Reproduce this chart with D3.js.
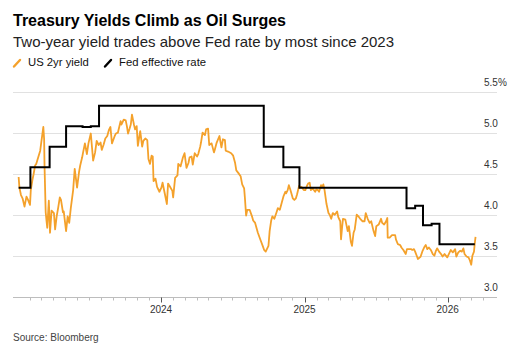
<!DOCTYPE html>
<html><head><meta charset="utf-8">
<script src="https://cdn.jsdelivr.net/npm/d3@7"></script>
<style>
body{margin:0;background:#fff}
svg{display:block}
text{font-family:"Liberation Sans",Arial,Helvetica,sans-serif}
</style>
</head><body>
<svg id="chart" width="525" height="353"></svg>
<script>
// ---------- DATA ----------
const titleText = "Treasury Yields Climb as Oil Surges";
const subtitleText = "Two-year yield trades above Fed rate by most since 2023";
const seriesNames = ["US 2yr yield", "Fed effective rate"];
const sourceText = "Source: Bloomberg";

const yieldDates = [
"2023-01-03","2023-01-05","2023-01-09","2023-01-13","2023-01-18","2023-01-23","2023-01-27","2023-02-01","2023-02-03","2023-02-07",
"2023-02-10","2023-02-14","2023-02-17","2023-02-22","2023-02-27","2023-03-02","2023-03-07","2023-03-09","2023-03-10","2023-03-13",
"2023-03-15","2023-03-17","2023-03-21","2023-03-24","2023-03-28","2023-04-03","2023-04-06","2023-04-10","2023-04-14","2023-04-18",
"2023-04-21","2023-04-26","2023-04-28","2023-05-04","2023-05-08","2023-05-12","2023-05-16","2023-05-22","2023-05-26","2023-06-01",
"2023-06-06","2023-06-09","2023-06-14","2023-06-16","2023-06-21","2023-06-26","2023-06-30","2023-07-06","2023-07-12","2023-07-17",
"2023-07-21","2023-07-26","2023-07-31","2023-08-03","2023-08-08","2023-08-12","2023-08-17","2023-08-21","2023-08-25","2023-08-29",
"2023-09-05","2023-09-08","2023-09-13","2023-09-20","2023-09-22","2023-09-28","2023-10-03","2023-10-06","2023-10-09","2023-10-13",
"2023-10-16","2023-10-19","2023-10-24","2023-10-27","2023-10-31","2023-11-03","2023-11-06","2023-11-09","2023-11-14","2023-11-17",
"2023-11-22","2023-11-27","2023-11-30","2023-12-04","2023-12-08","2023-12-11","2023-12-13","2023-12-18","2023-12-22","2023-12-28",
"2024-01-02","2024-01-05","2024-01-11","2024-01-16","2024-01-19","2024-01-24","2024-01-30","2024-02-01","2024-02-06","2024-02-12",
"2024-02-14","2024-02-20","2024-02-26","2024-03-01","2024-03-06","2024-03-11","2024-03-14","2024-03-19","2024-03-22","2024-03-27",
"2024-04-02","2024-04-05","2024-04-10","2024-04-12","2024-04-16","2024-04-22","2024-04-25","2024-04-30","2024-05-03","2024-05-09",
"2024-05-15","2024-05-17","2024-05-22","2024-05-29","2024-06-03","2024-06-07","2024-06-12","2024-06-14","2024-06-20","2024-06-28",
"2024-07-03","2024-07-08","2024-07-11","2024-07-16","2024-07-22","2024-07-26","2024-07-31","2024-08-02","2024-08-05","2024-08-08",
"2024-08-14","2024-08-20","2024-08-23","2024-08-28","2024-09-04","2024-09-10","2024-09-17","2024-09-20","2024-09-24","2024-09-27",
"2024-10-01","2024-10-04","2024-10-08","2024-10-11","2024-10-16","2024-10-21","2024-10-25","2024-10-30","2024-11-04","2024-11-08",
"2024-11-13","2024-11-15","2024-11-19","2024-11-22","2024-11-26","2024-12-02","2024-12-06","2024-12-10","2024-12-13","2024-12-18",
"2024-12-20","2024-12-24","2024-12-30",
"2025-01-03","2025-01-07","2025-01-10","2025-01-14","2025-01-17","2025-01-22","2025-01-28","2025-01-31","2025-02-04","2025-02-07",
"2025-02-12","2025-02-14","2025-02-18","2025-02-21","2025-02-26","2025-03-03","2025-03-06","2025-03-10","2025-03-14","2025-03-19",
"2025-03-25","2025-03-28","2025-04-02","2025-04-04","2025-04-07","2025-04-09","2025-04-15","2025-04-21","2025-04-24","2025-04-29",
"2025-05-02","2025-05-06","2025-05-09","2025-05-14","2025-05-20","2025-05-23","2025-05-29","2025-06-03","2025-06-06","2025-06-11",
"2025-06-16","2025-06-20","2025-06-26","2025-06-30","2025-07-03","2025-07-09","2025-07-15","2025-07-18","2025-07-23","2025-07-28",
"2025-07-31","2025-08-01","2025-08-06","2025-08-12","2025-08-15","2025-08-20","2025-08-22","2025-08-27","2025-09-02","2025-09-05",
"2025-09-10","2025-09-16","2025-09-19","2025-09-24","2025-09-30","2025-10-03","2025-10-07","2025-10-10","2025-10-14","2025-10-17",
"2025-10-22","2025-10-24","2025-10-29","2025-11-03","2025-11-06","2025-11-10","2025-11-14","2025-11-19","2025-11-24","2025-11-28",
"2025-12-02","2025-12-05","2025-12-10","2025-12-15","2025-12-19","2025-12-24","2025-12-31",
"2026-01-06","2026-01-09","2026-01-14","2026-01-20","2026-01-23","2026-01-28","2026-02-02","2026-02-06","2026-02-10","2026-02-13",
"2026-02-18","2026-02-23","2026-02-26","2026-03-02","2026-03-05","2026-03-09","2026-03-11","2026-03-13"
];
const yieldValues = [
4.46,4.33,4.24,4.20,4.10,4.22,4.18,4.12,4.30,4.42,
4.49,4.60,4.62,4.70,4.78,4.89,5.07,4.92,4.60,4.03,
3.93,3.84,4.17,3.78,4.05,4.02,3.82,3.98,4.09,4.21,
4.18,4.03,4.04,3.80,3.98,3.90,4.08,4.30,4.56,4.33,
4.52,4.60,4.70,4.75,4.87,4.74,4.87,4.99,4.66,4.76,
4.90,4.85,4.88,4.79,4.86,4.93,4.96,5.03,5.07,4.87,
4.96,4.99,5.00,5.14,5.10,5.16,5.15,5.08,4.99,5.05,
5.10,5.22,5.10,5.04,5.08,4.84,4.93,5.02,4.83,4.90,
4.93,4.91,4.68,4.62,4.72,4.71,4.41,4.44,4.34,4.28,
4.33,4.39,4.25,4.13,4.38,4.34,4.29,4.21,4.45,4.48,
4.62,4.59,4.70,4.75,4.57,4.63,4.70,4.71,4.61,4.75,
4.71,4.74,4.83,4.88,5.00,4.97,5.04,5.05,4.85,4.87,
4.76,4.79,4.88,4.96,4.82,4.92,4.91,4.78,4.77,4.75,
4.72,4.63,4.54,4.51,4.47,4.37,4.32,4.20,3.99,4.06,
4.06,3.98,3.93,3.90,3.78,3.70,3.61,3.57,3.55,3.58,
3.62,3.80,3.93,3.98,3.95,4.02,4.08,4.06,4.15,4.22,
4.28,4.26,4.30,4.36,4.30,4.20,4.18,4.20,4.25,4.35,
4.33,4.34,4.30,
4.30,4.35,4.38,4.39,4.30,4.32,4.28,4.31,4.30,4.28,
4.36,4.33,4.37,4.30,4.13,4.02,4.00,3.95,4.02,4.00,
4.04,3.97,3.92,3.70,3.86,3.95,3.94,3.80,3.86,3.67,
3.62,3.78,3.82,4.00,3.97,3.95,3.92,3.92,4.02,3.95,
3.90,3.92,3.80,3.74,3.86,3.88,3.95,3.90,3.88,3.92,
3.96,3.72,3.72,3.75,3.75,3.75,3.70,3.64,3.63,3.60,
3.57,3.52,3.58,3.58,3.58,3.57,3.58,3.55,3.50,3.46,
3.48,3.49,3.56,3.61,3.63,3.58,3.60,3.57,3.52,3.50,
3.56,3.59,3.55,3.52,3.49,3.52,3.48,
3.54,3.57,3.54,3.58,3.49,3.54,3.56,3.55,3.59,3.52,
3.49,3.48,3.45,3.39,3.50,3.55,3.65,3.73
];

const fedDates = ["2023-01-03","2023-02-02","2023-03-23","2023-05-04","2023-06-15","2023-07-06","2023-07-27",
  "2024-09-19","2024-11-08","2024-12-19","2025-09-18","2025-10-10","2025-10-30","2025-11-21","2025-12-11","2026-03-11"];
const fedValues = [4.33,4.58,4.83,5.08,5.07,5.08,5.33,4.83,4.58,4.33,4.08,4.11,3.87,3.89,3.64,3.64];

const yTicks = [3.0,3.5,4.0,4.5,5.0,5.5];
const yTickLabels = ["3.0","3.5","4.0","4.5","5.0","5.5%"];
const xYearTicks = ["2024-01-01","2025-01-01","2026-01-01"];
const xYearLabels = ["2024","2025","2026"];

// ---------- DRAW ----------
const parse = d3.timeParse("%Y-%m-%d");
const svg = d3.select("#chart");
svg.append("rect").attr("width",525).attr("height",353).attr("fill","#fff");

const x = d3.scaleTime().domain([parse("2024-01-01"), parse("2026-01-01")]).range([161, 447.7]);
const y = d3.scaleLinear().domain([3.0, 5.5]).range([296.7, 91.7]);
const gridLeft = 13, gridRight = 497;

// Titles
svg.append("text").attr("x",13).attr("y",25.5).attr("font-size",16).attr("font-weight","bold")
  .attr("fill","#000").text(titleText);
svg.append("text").attr("x",13).attr("y",46.5).attr("font-size",15).attr("fill","#222").text(subtitleText);

// Legend
const legColors = ["#f4a12b","#000"];
const legX = [14, 105];
seriesNames.forEach((n,i)=>{
  svg.append("line").attr("x1",legX[i]).attr("y1",66.5).attr("x2",legX[i]+6).attr("y2",60)
    .attr("stroke",legColors[i]).attr("stroke-width",2.4).attr("stroke-linecap","round");
  svg.append("text").attr("x",legX[i]+14).attr("y",65.8).attr("font-size",11.3).attr("fill","#111").text(n);
});

// Grid + y labels
const gy = svg.append("g");
yTicks.forEach((t,i)=>{
  gy.append("line").attr("x1",gridLeft).attr("x2",gridRight).attr("y1",Math.round(y(t))+0.5).attr("y2",Math.round(y(t))+0.5)
    .attr("stroke", i===0 ? "#bdbdbd" : "#e1e1e1").attr("stroke-width",1);
  gy.append("text").attr("x",484).attr("y",y(t)-6).attr("font-size",10).attr("fill","#333").text(yTickLabels[i]);
});

// x axis ticks
const axisY = Math.round(y(3.0))+0.5;
const months = d3.timeMonth.range(parse("2023-02-01"), parse("2026-04-02"));
svg.append("g").selectAll("line").data(months).join("line")
  .attr("x1",d=>Math.round(x(d))+0.5).attr("x2",d=>Math.round(x(d))+0.5)
  .attr("y1",axisY).attr("y2",axisY+3).attr("stroke","#bdbdbd").attr("stroke-width",1);
xYearTicks.forEach((d,i)=>{
  const xx = Math.round(x(parse(d)))+0.5;
  svg.append("line").attr("x1",xx).attr("x2",xx).attr("y1",axisY).attr("y2",axisY+5).attr("stroke","#555").attr("stroke-width",1);
  svg.append("text").attr("x",x(parse(d))).attr("y",313.3).attr("text-anchor","middle").attr("font-size",10).attr("fill","#333").text(xYearLabels[i]);
});

// Series
const yieldData = yieldDates.map((d,i)=>({d:parse(d), v:yieldValues[i]}));
const fedData = fedDates.map((d,i)=>({d:parse(d), v:fedValues[i]}));

svg.append("path").datum(yieldData)
  .attr("d", d3.line().x(p=>x(p.d)).y(p=>y(p.v)))
  .attr("fill","none").attr("stroke","#f4a12b").attr("stroke-width",1.8).attr("stroke-linejoin","round");

svg.append("path").datum(fedData)
  .attr("d", d3.line().curve(d3.curveStepAfter).x(p=>x(p.d)).y(p=>y(p.v)))
  .attr("fill","none").attr("stroke","#000").attr("stroke-width",2);

// Source
svg.append("text").attr("x",13).attr("y",341).attr("font-size",10).attr("fill","#444").text(sourceText);
</script>
</body></html>
